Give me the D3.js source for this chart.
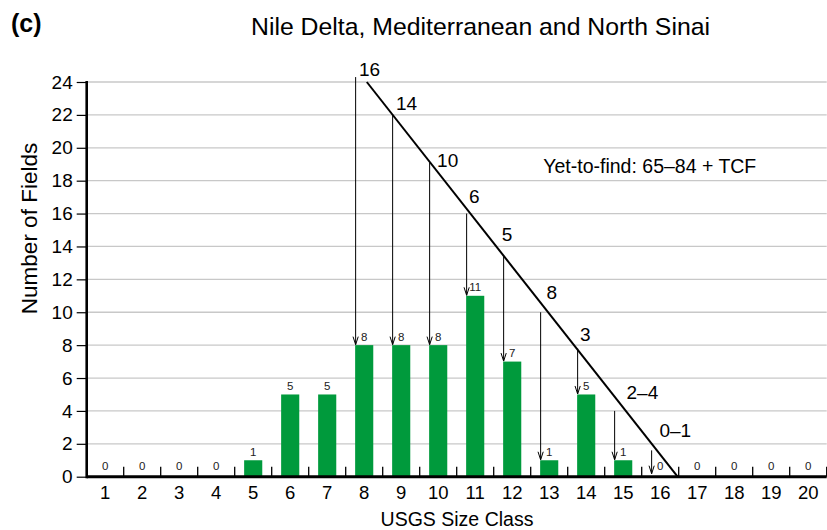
<!DOCTYPE html>
<html>
<head>
<meta charset="utf-8">
<script src="https://cdn.jsdelivr.net/npm/d3@7"></script>
<style>
  body { margin: 0; background: #fff; }
  text { font-family: "Liberation Sans", Arial, sans-serif; fill: #000; }
</style>
</head>
<body>
<div id="chart"></div>
<script>
// size classes and discovered fields per class
const sizeClasses = d3.range(1, 21);
const fieldCounts = [0, 0, 0, 0, 1, 5, 5, 8, 8, 8, 11, 7, 1, 5, 1, 0, 0, 0, 0, 0];
const yTicks = [0, 2, 4, 6, 8, 10, 12, 14, 16, 18, 20, 22, 24];

// arrows: class, value where arrow starts
const arrowClasses = [8, 9, 10, 11, 12, 13, 14, 15, 16];
const arrowStarts = [24.3, 22, 19.1, 16, 13.4, 10, 7.8, 4, 1.6];

// yet-to-find trend line, [class, value]
const trendLine = [[8.07, 24], [16.47, 0]];

// yet-to-find numbers along the line, [class, value, text]
const trendLabels = [
  [7.86, 24.36, "16"],
  [8.86, 22.3, "14"],
  [9.97, 18.83, "10"],
  [10.83, 16.64, "6"],
  [11.72, 14.35, "5"],
  [12.93, 10.82, "8"],
  [13.83, 8.27, "3"],
  [15.09, 4.71, "2\u20134"],
  [15.98, 2.43, "0\u20131"]
];
const noteText = "Yet-to-find: 65\u201384 + TCF";
const notePos = [12.84, 18.45];

const svgWidth = 827, svgHeight = 530;
const margin = {top: 82, right: 0.3, bottom: 53.3, left: 86.7};
const height = svgHeight - margin.top - margin.bottom;
const width = svgWidth - margin.left - margin.right;
const barColor = "#009a3c";

const svg = d3.select("#chart").append("svg")
  .attr("width", svgWidth)
  .attr("height", svgHeight);

const chart = svg.append("g")
  .attr("transform", "translate(" + margin.left + "," + margin.top + ")");

const xBand = d3.scaleBand().domain(sizeClasses).range([0, width]).padding(0);
const xLin = d3.scaleLinear().domain([0.5, 20.5]).range([0, width]);
const yScale = d3.scaleLinear().domain([0, 24]).range([height, 0]);
const barWidth = xBand.bandwidth() * 0.49;
const barLeft = c => xBand(c) + xBand.bandwidth() / 2 - barWidth / 2;

// gridlines
chart.append("g")
  .selectAll("line")
  .data(yTicks.filter(d => d > 0))
  .enter().append("line")
  .attr("x1", 0).attr("x2", width)
  .attr("y1", d => yScale(d)).attr("y2", d => yScale(d))
  .attr("stroke", "#c8c8c8")
  .attr("stroke-width", 1.3);

// bars
chart.selectAll(".bar")
  .data(fieldCounts)
  .enter().append("rect")
  .attr("class", "bar")
  .attr("x", (d, i) => barLeft(sizeClasses[i]))
  .attr("y", d => yScale(d))
  .attr("width", barWidth)
  .attr("height", d => height - yScale(d))
  .attr("fill", barColor);

// bar value labels
chart.selectAll(".barlabel")
  .data(fieldCounts)
  .enter().append("text")
  .attr("class", "barlabel")
  .attr("x", (d, i) => xBand(sizeClasses[i]) + xBand.bandwidth() / 2)
  .attr("y", d => yScale(d) - (d === 0 ? 7 : 4.5))
  .attr("text-anchor", "middle")
  .style("font-size", "11.5px")
  .style("fill", "#222")
  .text(d => d);

// y axis
const yAxis = d3.axisLeft(yScale).tickValues(yTicks).tickSize(10).tickPadding(4);
const gy = chart.append("g").call(yAxis);
gy.select(".domain").remove();
gy.selectAll(".tick line").attr("stroke", "#000").attr("stroke-width", 1.2);
gy.selectAll(".tick text")
  .style("font-size", "19px")
  .style("font-family", "'Liberation Sans', Arial, sans-serif")
  .attr("fill", "#000");

// x axis: tick marks at class boundaries, labels at centres
const xAxis = d3.axisBottom(xBand).tickSize(0).tickPadding(9);
const gx = chart.append("g")
  .attr("transform", "translate(0," + height + ")")
  .call(xAxis);
gx.select(".domain").remove();
gx.selectAll(".tick text")
  .style("font-size", "18.5px")
  .style("font-family", "'Liberation Sans', Arial, sans-serif")
  .attr("fill", "#000")
  .attr("dy", "0.71em");

chart.append("g")
  .selectAll("line")
  .data(d3.range(0.5, 21.5, 1))
  .enter().append("line")
  .attr("x1", d => xLin(d)).attr("x2", d => xLin(d))
  .attr("y1", height).attr("y2", height - 10)
  .attr("stroke", "#000")
  .attr("stroke-width", 1.3);

// axis lines
chart.append("line")
  .attr("x1", 0).attr("x2", width)
  .attr("y1", height).attr("y2", height)
  .attr("stroke", "#000").attr("stroke-width", 3);
chart.append("line")
  .attr("x1", 0).attr("x2", 0)
  .attr("y1", yScale(24) - 1).attr("y2", height + 1.5)
  .attr("stroke", "#000").attr("stroke-width", 2.6);

// trend line
chart.append("path")
  .datum(trendLine)
  .attr("d", d3.line().x(d => xLin(d[0])).y(d => yScale(d[1])))
  .attr("fill", "none")
  .attr("stroke", "#000")
  .attr("stroke-width", 2);

// arrows
const arrows = chart.append("g");
arrowClasses.forEach((c, i) => {
  const x = barLeft(c) + 0.5;
  const y0 = yScale(arrowStarts[i]);
  const y1 = yScale(fieldCounts[c - 1]) - (fieldCounts[c - 1] === 0 ? 3 : 0.5);
  arrows.append("line")
    .attr("x1", x).attr("x2", x)
    .attr("y1", y0).attr("y2", y1)
    .attr("stroke", "#000").attr("stroke-width", 1);
  arrows.append("path")
    .attr("d", "M" + (x - 2.6) + "," + (y1 - 8) + "L" + x + "," + y1 + "L" + (x + 2.6) + "," + (y1 - 8))
    .attr("fill", "none")
    .attr("stroke", "#000").attr("stroke-width", 1);
});

// trend labels
chart.selectAll(".trendlabel")
  .data(trendLabels)
  .enter().append("text")
  .attr("class", "trendlabel")
  .attr("x", d => xLin(d[0]))
  .attr("y", d => yScale(d[1]))
  .style("font-size", "19px")
  .text(d => d[2]);

chart.append("text")
  .attr("x", xLin(notePos[0]))
  .attr("y", yScale(notePos[1]))
  .style("font-size", "19.5px")
  .text(noteText);

// titles
svg.append("text")
  .attr("x", 11).attr("y", 32)
  .style("font-size", "25px")
  .style("font-weight", "bold")
  .text("(c)");

svg.append("text")
  .attr("x", 480.5).attr("y", 35)
  .attr("text-anchor", "middle")
  .style("font-size", "24.8px")
  .text("Nile Delta, Mediterranean and North Sinai");

svg.append("text")
  .attr("x", 457).attr("y", 526)
  .attr("text-anchor", "middle")
  .style("font-size", "19.5px")
  .text("USGS Size Class");

svg.append("text")
  .attr("transform", "translate(37,228.5) rotate(-90)")
  .attr("text-anchor", "middle")
  .style("font-size", "22.5px")
  .text("Number of Fields");
</script>
</body>
</html>
